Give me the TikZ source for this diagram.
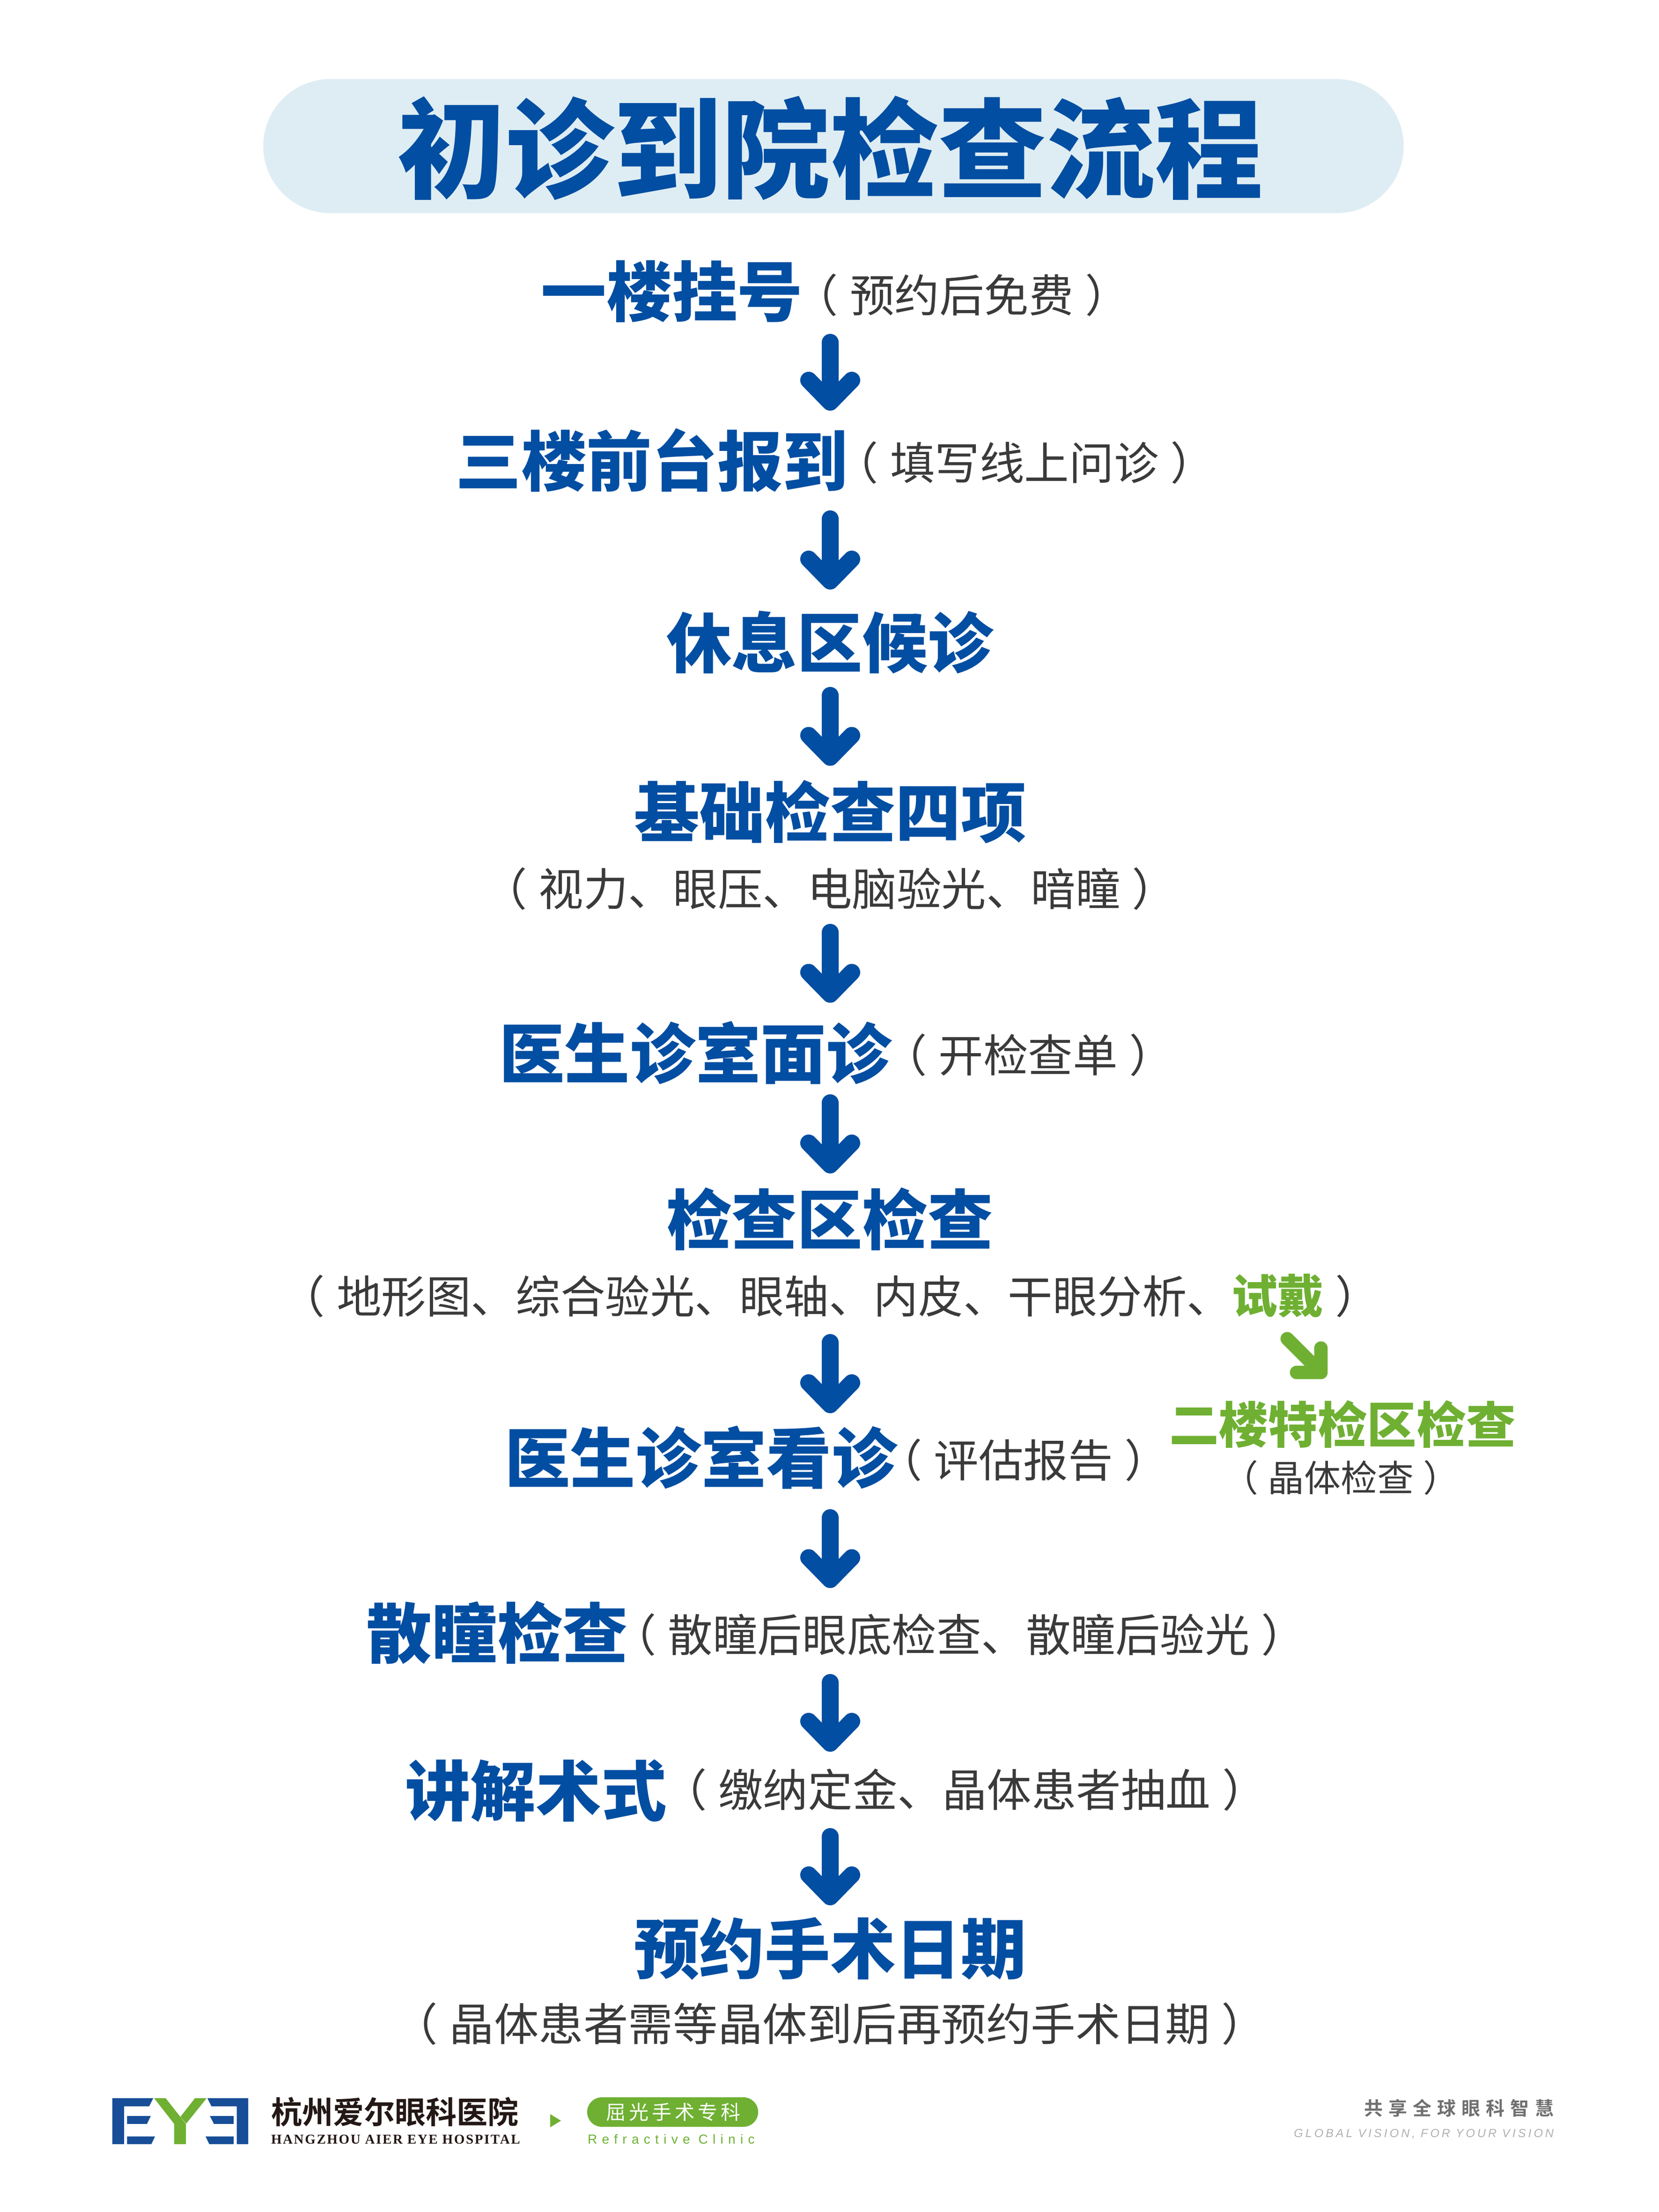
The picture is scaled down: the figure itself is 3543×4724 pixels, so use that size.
\documentclass[tikz,border=0pt]{standalone}
\usepackage{fontspec}
\usetikzlibrary{calc}
\setmainfont{Liberation Sans}
\newfontfamily\reg{Noto Sans CJK SC}
\newfontfamily\blk{Noto Sans CJK SC Black}
\newfontfamily\bld{Noto Sans CJK SC Bold}
\newfontfamily\tr{Liberation Serif}
\definecolor{hblue}{HTML}{024EA2}
\definecolor{lblue}{HTML}{174E97}
\definecolor{gr}{HTML}{6FB033}
\definecolor{txt}{HTML}{3A3A3A}
\definecolor{pillc}{HTML}{DEEDF3}
\newcommand{\pr}[1]{（\kern.26em #1\kern.26em ）}
\tikzset{
  base/.style={inner sep=0pt,outer sep=0pt,anchor=center},
  headnode/.style={base,text=hblue,text height=1.22cm,text depth=.175cm,font=\blk\fontsize{1.395cm}{1.395cm}\selectfont},
  subnode/.style={base,text=txt,text height=.84cm,text depth=.11cm,font=\reg\fontsize{.955cm}{.955cm}\selectfont},
  ghead/.style={base,text=gr,text height=.92cm,text depth=.135cm,font=\blk\fontsize{1.056cm}{1.056cm}\selectfont},
  gsub/.style={base,text=txt,text height=.68cm,text depth=.09cm,font=\reg\fontsize{.78cm}{.78cm}\selectfont},
  flow/.style={draw=hblue,line width=.36cm,line cap=round,line join=round,
    to path={(\tikztostart) -- (\tikztotarget) ($(\tikztotarget)+(-46,-47)$) -- (\tikztotarget) -- ($(\tikztotarget)+(46,-47)$)}},
  gflow/.style={draw=gr,line width=.287cm,line cap=round,line join=round,
    to path={(\tikztostart) -- (\tikztotarget) ($(\tikztotarget)+(-52,0)$) -- (\tikztotarget) -- ($(\tikztotarget)+(0,-52)$)}},
  lgb/.style={fill=lblue,draw=none},
  lgg/.style={fill=gr,draw=none}
}
\begin{document}
\begin{tikzpicture}[x=0.01cm,y=-0.01cm]
\useasboundingbox (0,0) rectangle (3543,4724);
\coordinate (spine) at (1773,0);

\node[base,fill=pillc,minimum width=24.34cm,minimum height=2.86cm,rounded corners=1.43cm] (pill) at (1780,312) {};
\node[base,text=hblue,font=\blk\fontsize{2.31cm}{2.31cm}\selectfont] (title) at (1773,316) {初诊到院检查流程};

\node[headnode] (h1) at (1435,623.5) {一楼挂号};
\node[subnode] (s1) at (2054,629.5) {\pr{预约后免费}};
\node[headnode] (h2) at (1392.5,985) {三楼前台报到};
\node[subnode] (s2) at (2188,988) {\pr{填写线上问诊}};
\node[headnode] (h3) at (1772,1373.5) {休息区候诊};
\node[headnode] (h4) at (1773,1735) {基础检查四项};
\node[subnode] (s4) at (1772,1897.5) {\pr{视力、眼压、电脑验光、暗瞳}};
\node[headnode] (h5) at (1485,2250) {医生诊室面诊};
\node[subnode] (s5) at (2196,2253) {\pr{开检查单}};
\node[headnode] (h6) at (1772,2605.5) {检查区检查};
\node[subnode] (s6) at (1773,2768) {\pr{地形图、综合验光、眼轴、内皮、干眼分析、{\blk\fontsize{.98cm}{.98cm}\selectfont\color{gr}试戴}}};
\node[headnode] (h7) at (1497,3114.5) {医生诊室看诊};
\node[subnode] (s7) at (2186,3117.5) {\pr{评估报告}};
\node[headnode] (h8) at (1062,3488) {散瞳检查};
\node[subnode] (s8) at (2048,3491) {\pr{散瞳后眼底检查、散瞳后验光}};
\node[headnode] (h9) at (1144.5,3825) {讲解术式};
\node[subnode] (s9) at (2060,3822) {\pr{缴纳定金、晶体患者抽血}};
\node[headnode] (h10) at (1773,4162.5) {预约手术日期};
\node[subnode] (s10) at (1772,4322) {\pr{晶体患者需等晶体到后再预约手术日期}};

\node[ghead] (gh) at (2867,3043) {二楼特检区检查};
\node[gsub] (gs) at (2863.5,3156) {\pr{晶体检查}};

\draw[flow] ($(h1.south -| spine)+(0,37.75)$) to ($(h2.north -| spine)+(0,-56.25)$);
\draw[flow] ($(h2.south -| spine)+(0,53.25)$) to ($(h3.north -| spine)+(0,-62.75)$);
\draw[flow] ($(h3.south -| spine)+(0,41.75)$) to ($(h4.north -| spine)+(0,-47.75)$);
\draw[flow] ($(s4.south -| spine)+(0,46)$) to ($(h5.north -| spine)+(0,-56.75)$);
\draw[flow] ($(h5.south -| spine)+(0,35.25)$) to ($(h6.north -| spine)+(0,-47.75)$);
\draw[flow] ($(s6.south -| spine)+(0,51.5)$) to ($(h7.north -| spine)+(0,-44.75)$);
\draw[flow] ($(h7.south -| spine)+(0,56.75)$) to ($(h8.north -| spine)+(0,-44.75)$);
\draw[flow] ($(h8.south -| spine)+(0,35.25)$) to ($(h9.north -| spine)+(0,-32.25)$);
\draw[flow] ($(h9.south -| spine)+(0,27.25)$) to ($(h10.north -| spine)+(0,-41.75)$);
\coordinate (gstart) at (2749,2859);
\coordinate (gend) at (2821,2931);
\draw[gflow] (gstart) to (gend);

% footer logo
\begin{scope}[shift={(220,4430)},x=0.00333cm,y=-0.00333cm]
\fill[lgb] (60,153)--(322,153)--(296,205)--(135,205)--(135,448)--(60,448)--cycle;
\fill[lgb] (154,268)--(306,268)--(282,318)--(154,318)--cycle;
\fill[lgb] (154,398)--(334,398)--(310,448)--(154,448)--cycle;
\fill[lgb] (932,153)--(670,153)--(696,205)--(858,205)--(858,448)--(932,448)--cycle;
\fill[lgb] (838,268)--(686,268)--(712,318)--(838,318)--cycle;
\fill[lgb] (838,398)--(658,398)--(682,448)--(838,448)--cycle;
\fill[lgg] (328,153)--(402,153)--(532,318)--(532,448)--(457,448)--(457,318)--cycle;
\fill[lgg] (590,153)--(665,153)--(534,316)--(497,272)--cycle;
\end{scope}
\node[base,text={rgb,255:red,35;green,24;blue,21},font=\bld\fontsize{.66cm}{.66cm}\selectfont,anchor=west] (hname) at (579,4510) {杭州爱尔眼科医院};
\node[base,text={rgb,255:red,35;green,24;blue,21},font=\tr\bfseries\addfontfeature{LetterSpace=9}\fontsize{.29cm}{.29cm}\selectfont,anchor=west] (hen) at (579,4569) {HANGZHOU AIER EYE HOSPITAL};
\fill[gr] (1175,4515)--(1198,4529)--(1175,4543)--cycle;
\node[base,fill=gr,minimum width=3.65cm,minimum height=.63cm,rounded corners=.315cm] (cpill) at (1436.5,4510.5) {};
\node[base,text=white,font=\reg\addfontfeature{LetterSpace=17}\fontsize{.42cm}{.42cm}\selectfont] (ctext) at (1438,4510.5) {屈光手术专科};
\node[base,text=gr,font=\addfontfeature{LetterSpace=36.7}\fontsize{.28cm}{.28cm}\selectfont,anchor=west] (cen) at (1255,4568) {Refractive Clinic};
\node[base,text={rgb,255:red,112;green,112;blue,112},font=\bld\addfontfeature{LetterSpace=30}\fontsize{.40cm}{.40cm}\selectfont,anchor=east] (sl) at (3318,4502) {共享全球眼科智慧};
\node[base,text={rgb,255:red,176;green,176;blue,176},font=\itshape\addfontfeature{LetterSpace=20}\fontsize{.25cm}{.25cm}\selectfont,anchor=east] (sle) at (3318,4557) {GLOBAL VISION, FOR YOUR VISION};
\end{tikzpicture}
\end{document}
